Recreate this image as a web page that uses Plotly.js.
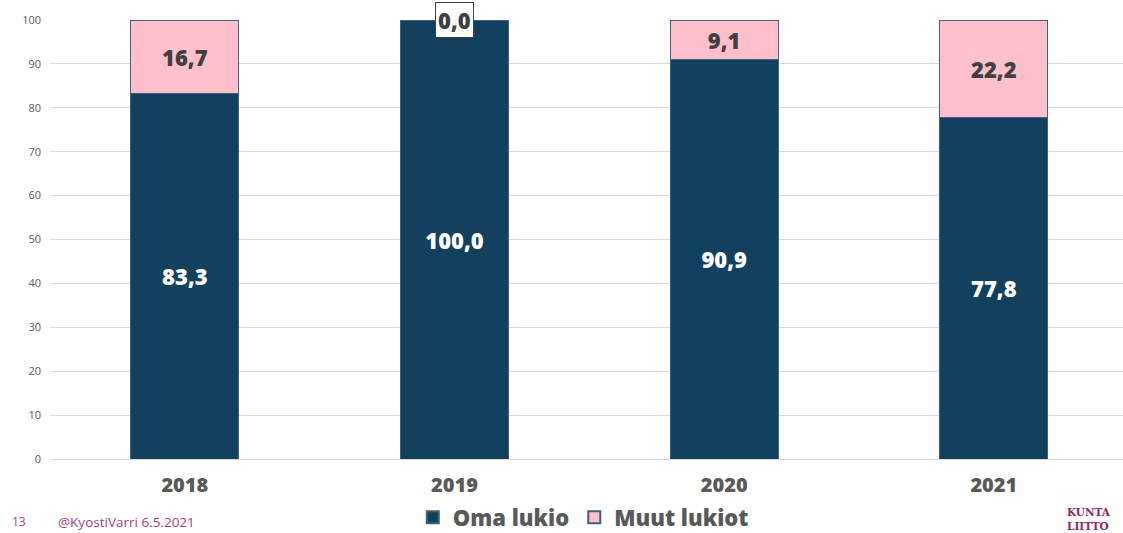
<!DOCTYPE html>
<html>
<head>
<meta charset="utf-8">
<script src="https://cdn.plot.ly/plotly-3.0.1.min.js"></script>
<style>html,body{margin:0;padding:0;background:#fff;}#chart{width:1123px;height:533px;}</style>
</head>
<body>
<div id="chart"></div>
<script>
var years = ['2018', '2019', '2020', '2021'];
var omaLukio = [83.3, 100.0, 90.9, 77.8];
var muutLukiot = [16.7, 0.0, 9.1, 22.2];
var seriesNames = ['Oma lukio', 'Muut lukiot'];
var yTicks = [0, 10, 20, 30, 40, 50, 60, 70, 80, 90, 100];
var footerPage = '13';
var footerAuthor = '@KyostiVarri 6.5.2021';
var logoLines = ['KUNTA', 'LIITTO'];

var FONT = '"Open Sans", Roboto, sans-serif';
var NAVY = '#12405f';
var PINK = '#ffc0cb';
var EDGE = '#40607f';

var traces = [
  {
    type: 'bar', name: seriesNames[0], x: years, y: omaLukio,
    marker: {color: NAVY, line: {color: EDGE, width: 1}},
    texttemplate: '%{y:.1f}', textposition: 'inside', insidetextanchor: 'middle',
    textangle: 0,
    insidetextfont: {family: FONT, size: 22, color: '#ffffff', weight: 800},
    hoverinfo: 'skip'
  },
  {
    type: 'bar', name: seriesNames[1], x: years, y: muutLukiot,
    marker: {color: PINK, line: {color: EDGE, width: 1}},
    texttemplate: muutLukiot.map(function(v){ return v > 0 ? '%{y:.1f}' : ''; }),
    textposition: 'inside', insidetextanchor: 'middle', textangle: 0,
    insidetextfont: {family: FONT, size: 22, color: '#404040', weight: 800},
    hoverinfo: 'skip'
  }
];

var annotations = [];
muutLukiot.forEach(function(v, i){
  if (v === 0) {
    annotations.push({
      x: i, y: omaLukio[i] + v, xref: 'x', yref: 'y',
      text: v.toFixed(1).replace('.', ','),
      showarrow: false, xanchor: 'center', yanchor: 'middle',
      font: {family: FONT, size: 22, color: '#404040', weight: 800},
      bgcolor: '#ffffff', bordercolor: '#404040', borderwidth: 1, borderpad: 2
    });
  }
});
annotations.push(
  {xref: 'paper', yref: 'paper', x: -0.037, y: -0.143, xanchor: 'left', yanchor: 'middle',
   text: footerPage, showarrow: false, font: {family: FONT, size: 12, color: '#a0437e'}},
  {xref: 'paper', yref: 'paper', x: 0.006, y: -0.143, xanchor: 'left', yanchor: 'middle',
   text: footerAuthor, showarrow: false, font: {family: FONT, size: 13.5, color: '#a0437e'}},
  {xref: 'paper', yref: 'paper', x: 0.947, y: -0.137, xanchor: 'left', yanchor: 'middle', align: 'left',
   text: '<b>' + logoLines.join('<br>') + '</b>', showarrow: false, borderpad: 0,
   font: {family: '"DejaVu Serif", "Liberation Serif", serif', size: 10.5, color: '#8b2a67'}}
);

var layout = {
  width: 1123, height: 533,
  margin: {l: 50, r: 0, t: 20, b: 74, autoexpand: false},
  paper_bgcolor: '#ffffff', plot_bgcolor: '#ffffff',
  barmode: 'stack', bargap: 0.6,
  separators: ', ',
  showlegend: true,
  legend: {orientation: 'h', x: 0.497, xanchor: 'center', y: -0.133, yanchor: 'middle',
           bgcolor: 'rgba(0,0,0,0)',
           font: {family: FONT, size: 22, color: '#595959', weight: 800},
           itemsizing: 'constant', traceorder: 'normal'},
  xaxis: {type: 'category', range: [-0.5, 3.479], showgrid: false, zeroline: false,
          showline: false, ticks: '', ticklabelstandoff: 12, automargin: false,
          tickfont: {family: FONT, size: 20, color: '#595959', weight: 800}},
  yaxis: {range: [0, 100], tickvals: yTicks, ticktext: yTicks.map(String),
          showgrid: true, gridcolor: '#d9d9d9', gridwidth: 1, zeroline: true,
          zerolinecolor: '#d9d9d9', showline: false, ticks: '', ticklabelstandoff: 8,
          automargin: false,
          tickfont: {family: FONT, size: 11, color: '#595959'}},
  annotations: annotations
};

Plotly.newPlot('chart', traces, layout, {displayModeBar: false, staticPlot: true});
</script>
</body>
</html>
